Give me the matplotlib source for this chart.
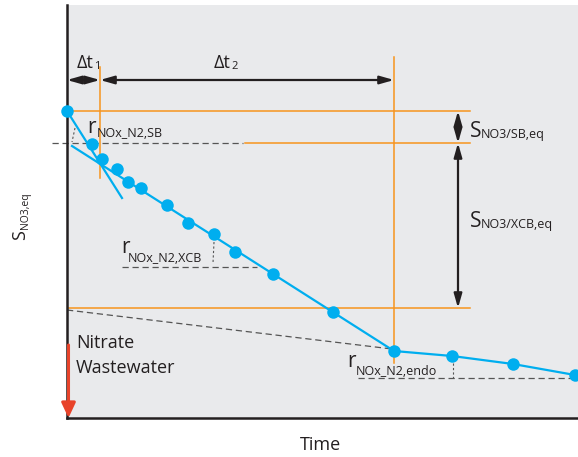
import matplotlib.pyplot as plt

plt.rcParams['font.family'] = ['Open Sans', 'DejaVu Sans']

time_pts = [0, 25, 35, 50, 61, 74, 100, 121, 147, 168, 206, 266, 327, 385, 446, 508]
s_pts = [307, 274, 259, 249, 236, 230, 213, 195, 184, 166, 144, 106, 67, 62, 54, 43]

# fitted slopes
sb_fit_t = [0, 55]
sb_fit_s = [307, 220]
xcb_fit_t = [5, 327]
xcb_fit_s = [272, 67]

# equivalence levels and time marks
s_top = 307
s_sb = 275
s_xcb = 110
t1 = 33
t2 = 327

# dashed helper lines
endo_ext_t = [0, 325]
endo_ext_s = [108, 69]

blue = "#00aeef"
orange = "#f7941d"
dash = "#555555"
black = "#231f20"
red = "#e8432a"

fig = plt.figure(figsize=(5.78, 4.57), dpi=100)
ax = fig.add_axes([67 / 578, 39 / 457, 511 / 578, 413 / 457])
ax.set_xlim(0, 511)
ax.set_ylim(0, 413)
ax.set_facecolor("#e9eaec")
for s in ["top", "right"]:
    ax.spines[s].set_visible(False)
for s in ["left", "bottom"]:
    ax.spines[s].set_linewidth(1.8)
    ax.spines[s].set_color(black)
ax.set_xticks([])
ax.set_yticks([])

#orange guide lines
ax.plot([0, 403], [s_top, s_top], color=orange, lw=1.1, zorder=1)
ax.plot([178, 403], [s_sb, s_sb], color=orange, lw=1.1, zorder=1)
ax.plot([0, 403], [s_xcb, s_xcb], color=orange, lw=1.1, zorder=1)
ax.plot([t1, t1], [351, 240], color=orange, lw=1.1, zorder=1)
ax.plot([t2, t2], [361, 55], color=orange, lw=1.1, zorder=1)

#dashed lines
dkw = dict(color=dash, lw=0.9, ls=(0, (5, 3)), zorder=2)
ax.plot([-15, 176], [s_sb, s_sb], clip_on=False, **dkw)
ax.plot([8, 5], [290, 276], color=dash, lw=0.8, ls=(0, (2, 2)), zorder=2)
ax.plot([55, 190], [151, 151], **dkw)
ax.plot([147, 146], [176, 155], color=dash, lw=0.8, ls=(0, (2, 2)), zorder=2)
ax.plot([291, 508], [40, 40], **dkw)
ax.plot([386, 386], [55, 40], color=dash, lw=0.8, ls=(0, (2, 2)), zorder=2)
ax.plot(endo_ext_t, endo_ext_s, **dkw)

#blue lines and points
ax.plot(sb_fit_t, sb_fit_s, color=blue, lw=1.6, zorder=3)
ax.plot(xcb_fit_t, xcb_fit_s, color=blue, lw=1.6, zorder=3)
ax.plot(time_pts[12:], s_pts[12:], color=blue, lw=1.6, zorder=3)
ax.plot(time_pts, s_pts, "o", color=blue, ms=9, mec="none", zorder=4, clip_on=False)

#arrows
akw = dict(arrowstyle="<|-|>,head_length=0.7,head_width=0.2", color=black, lw=1.6,
           shrinkA=0, shrinkB=0, mutation_scale=12)
ax.annotate("", xy=(t1, 338), xytext=(0, 338), arrowprops=akw)
ax.annotate("", xy=(t2, 338), xytext=(t1, 338), arrowprops=akw)
ax.annotate("", xy=(391, s_sb), xytext=(391, s_top), arrowprops=akw)
ax.annotate("", xy=(391, s_xcb), xytext=(391, s_sb), arrowprops=akw)
ax.annotate("", xy=(1.5, 0), xytext=(1.5, 73),
            arrowprops=dict(arrowstyle="-|>,head_length=0.75,head_width=0.35", color=red,
                            lw=2.2, shrinkA=0, shrinkB=0, mutation_scale=12))

#labels
tc = "#231f20"
ax.text(10, 350, "Δt", fontsize=13, color=tc)
ax.text(27, 349, "1", fontsize=8, color=tc)
ax.text(147, 350, "Δt", fontsize=13, color=tc)
ax.text(164, 349, "2", fontsize=8, color=tc)

ax.text(403, 281, "S", fontsize=15, color=tc)
ax.text(414, 280, "NO3/SB,eq", fontsize=9, color=tc)
ax.text(403, 191, "S", fontsize=15, color=tc)
ax.text(414, 190, "NO3/XCB,eq", fontsize=9, color=tc)

ax.text(20, 285, "r", fontsize=15, color=tc)
ax.text(30, 281, "NOx_N2,SB", fontsize=9, color=tc)
ax.text(54, 165, "r", fontsize=15, color=tc)
ax.text(61, 156, "NOx_N2,XCB", fontsize=9, color=tc)
ax.text(280, 51, "r", fontsize=15, color=tc)
ax.text(289, 43, "NOx_N2,endo", fontsize=9, color=tc)

ax.text(9, 70, "Nitrate", fontsize=13, color=tc)
ax.text(9, 45, "Wastewater", fontsize=13, color=tc)

ax.text(253, -32, "Time", fontsize=13, color=tc, ha="center")
ax.text(-42, 178, "S", fontsize=13, color=tc, rotation=90, rotation_mode="anchor",
        ha="left", va="baseline")
ax.text(-39, 189, "NO3,eq", fontsize=7.5, color=tc, rotation=90, rotation_mode="anchor",
        ha="left", va="baseline")

fig.savefig("out.png", dpi=100)
